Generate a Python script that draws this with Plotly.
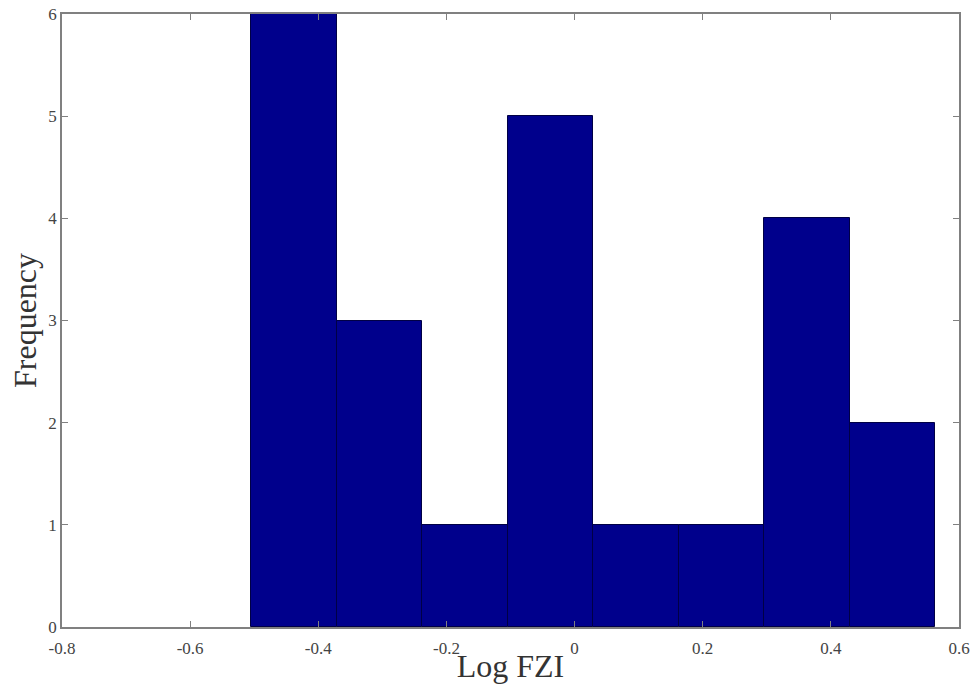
import plotly.graph_objects as go

bin_start = -0.505
bin_width = 0.13345
counts = [6, 3, 1, 5, 1, 1, 4, 2]
x_ticks = [-0.8, -0.6, -0.4, -0.2, 0, 0.2, 0.4, 0.6]
x_tick_labels = ["-0.8", "-0.6", "-0.4", "-0.2", "0", "0.2", "0.4", "0.6"]
y_ticks = [0, 1, 2, 3, 4, 5, 6]

centers = [bin_start + bin_width * (i + 0.5) for i in range(len(counts))]

fig = go.Figure(go.Bar(
    x=centers, y=counts, width=[bin_width] * len(counts),
    marker=dict(color="#00008C", line=dict(color="#000045", width=1)),
))

axis_common = dict(
    showgrid=False, zeroline=False, showline=True, linecolor="#808080",
    linewidth=1.5, mirror="ticks", ticks="inside", ticklen=6,
    tickcolor="#808080", automargin=False,
    tickfont=dict(family="Liberation Serif", size=17, color="#444444"),
)

fig.update_layout(
    width=976, height=684,
    margin=dict(l=62, r=17, t=14, b=57),
    plot_bgcolor="white", paper_bgcolor="white",
    showlegend=False, bargap=0,
    xaxis=dict(range=[-0.8, 0.6], tickvals=x_ticks, ticktext=x_tick_labels,
               ticklabelstandoff=5,
               title=dict(text="Log FZI", standoff=0,
                          font=dict(family="Liberation Serif", size=32, color="#333333")),
               **axis_common),
    yaxis=dict(range=[0, 6], tickvals=y_ticks,
               ticklabelstandoff=0,
               title=dict(text="Frequency", standoff=2,
                          font=dict(family="Liberation Serif", size=32, color="#333333")),
               **axis_common),
)

fig.write_html("out.html")
